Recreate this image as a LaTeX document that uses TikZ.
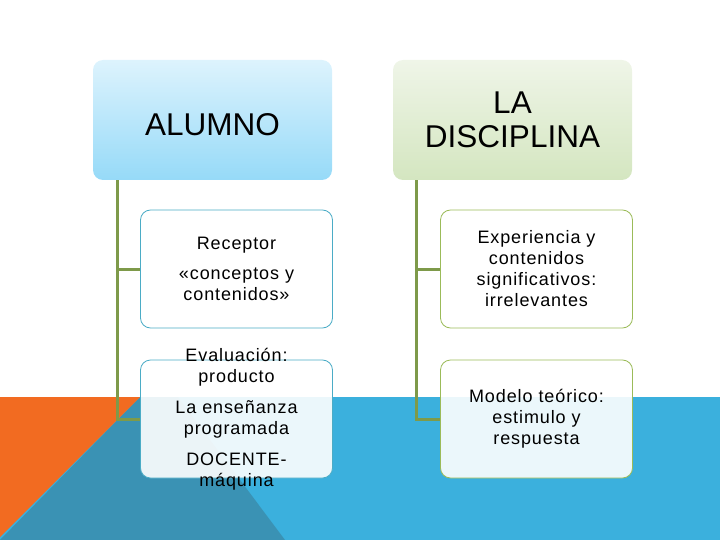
\documentclass[tikz,border=0pt]{standalone}
\usepackage{fontspec}
\setmainfont{Liberation Sans}
\definecolor{bandblue}{HTML}{3BB0DD}
\definecolor{darkteal}{HTML}{3A92B4}
\definecolor{bandorange}{HTML}{F26B21}
\definecolor{connolive}{HTML}{7E9A4A}
\definecolor{leftedge}{HTML}{4BACC6}
\definecolor{rightedge}{HTML}{9BBB59}
\begin{document}
\begin{tikzpicture}[x=1pt,y=-1pt,
  headbase/.style={rectangle, rounded corners=10pt, minimum width=239pt, minimum height=120pt,
    inner sep=0pt, align=center, font=\fontsize{31.5}{34}\selectfont},
  headblue/.style={headbase, top color={rgb,255:red,221;green,243;blue,253}, bottom color={rgb,255:red,150;green,218;blue,248}},
  headgreen/.style={headbase, top color={rgb,255:red,239;green,245;blue,232}, bottom color={rgb,255:red,212;green,230;blue,192}},
  childbox/.style={rectangle, rounded corners=10pt, minimum width=192pt, minimum height=118pt,
    inner sep=0pt, fill=white, fill opacity=0.9, draw opacity=1, line width=0.8pt},
  lchild/.style={childbox, draw=leftedge},
  rchild/.style={childbox, draw=rightedge},
  childtext/.style={align=center, font=\fontsize{18}{21}\selectfont\addfontfeature{LetterSpace=5}, inner sep=0pt},
  conn/.style={draw=connolive, line width=3pt},
  slot/.style={minimum width=192pt, minimum height=118pt, inner sep=0pt}]
\useasboundingbox (0,0) rectangle (720,540);
% background band
\fill[bandblue] (0,397) rectangle (720,540);
\fill[darkteal] (140,397) -- (178,397) -- (285,540) -- (0,540) -- cycle;
\fill[bandorange] (0,397) -- (140,397) -- (0,537) -- cycle;
% trunk anchors
\coordinate (ltop) at (117,180);
\coordinate (rtop) at (416,180);
% slots
\path (236.5,269) node[slot] (recA) {};
\path (236.5,419) node[slot] (evA) {};
\path (536.5,269) node[slot] (expA) {};
\path (536.5,419) node[slot] (modA) {};
% connectors
\draw[conn] (ltop) |- (recA.west);
\draw[conn] (ltop) |- (evA.west);
\draw[conn] (rtop) |- (expA.west);
\draw[conn] (rtop) |- (modA.west);
% header boxes
\node[headblue] (alumno) at (212.5,120) {};
\node[align=center, font=\fontsize{31.5}{34}\selectfont, inner sep=0pt] at ([yshift=-5pt]alumno.center) {ALUMNO};
\node[headgreen] (disc) at (512.5,120) {LA\\DISCIPLINA};
% child boxes
\node[lchild] (rec) at (recA) {};
\node[childtext] at (rec.center) {Receptor\\[9pt]«conceptos y\\contenidos»};
\node[lchild] (ev) at (evA) {};
\node[childtext] at (ev.center) {Evaluación:\\producto\\[10pt]La enseñanza\\programada\\[10pt]DOCENTE-\\máquina};
\node[rchild] (exp) at (expA) {};
\node[childtext] at (exp.center) {Experiencia y\\contenidos\\significativos:\\irrelevantes};
\node[rchild] (mod) at (modA) {};
\node[childtext] at (mod.center) {Modelo teórico:\\estimulo y\\respuesta};
\end{tikzpicture}
\end{document}
